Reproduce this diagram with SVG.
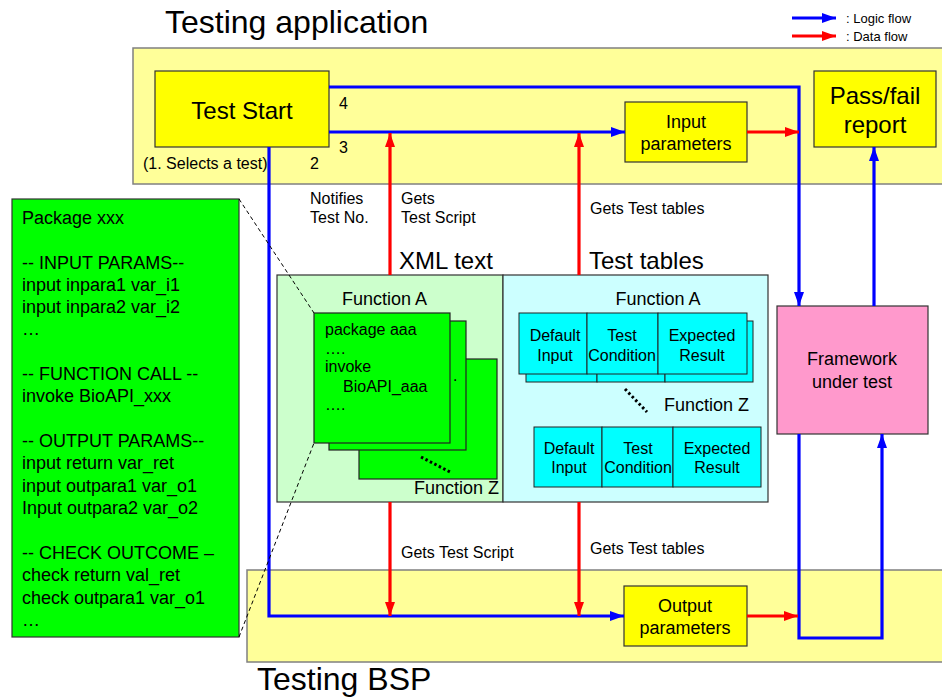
<svg xmlns="http://www.w3.org/2000/svg" width="942" height="700" viewBox="0 0 942 700">
<style>
text{font-family:"Liberation Sans",Arial,sans-serif;fill:#000}
.band{fill:#ffff99;stroke:#808080;stroke-width:1.5}
.box{fill:#ffff00;stroke:#333;stroke-width:1.2}
.gcard{fill:#00ff00;stroke:#222;stroke-width:1.2}
.cell{fill:#00ffff;stroke:#222;stroke-width:1}
.blue{fill:none;stroke:#0000ff;stroke-width:3.2;marker-end:url(#ab)}
.red{fill:none;stroke:#ff0000;stroke-width:3.2;marker-end:url(#ar)}
.dash{fill:none;stroke:#000;stroke-width:1;stroke-dasharray:4,3}
.dots{fill:none;stroke:#000;stroke-width:3;stroke-dasharray:2.5,2.5}
.t16{font-size:16px}
.t18{font-size:18px}
.t24{font-size:24px}
.t32{font-size:32px}
.c{text-anchor:middle}
</style>
<defs>
<marker id="ab" markerUnits="userSpaceOnUse" markerWidth="16" markerHeight="12" refX="14" refY="6" orient="auto"><path d="M0,1 L14,6 L0,11 Z" fill="#0000ff"/></marker>
<marker id="ar" markerUnits="userSpaceOnUse" markerWidth="16" markerHeight="12" refX="14" refY="6" orient="auto"><path d="M0,1 L14,6 L0,11 Z" fill="#ff0000"/></marker>
</defs>
<rect width="942" height="700" fill="#fff"/>

<g id="testing-application">
<rect class="band" x="133" y="48" width="815" height="136"/>
<text class="t32" x="165" y="33">Testing application</text>
</g>
<g id="testing-bsp">
<rect class="band" x="247" y="570" width="700" height="92"/>
<text class="t32" x="257" y="690">Testing BSP</text>
</g>

<g id="legend">
<path class="blue" d="M792,18 H836"/>
<path class="red" d="M792,36 H836"/>
<text x="846" y="23" font-size="13">: Logic flow</text>
<text x="846" y="41" font-size="13">: Data flow</text>
</g>

<g id="test-start">
<rect class="box" x="155" y="71" width="174" height="76"/>
<text class="t24 c" x="242" y="119">Test Start</text>
<text class="t16" x="143" y="169">(1. Selects a test)</text>
</g>
<g id="input-parameters">
<rect class="box" x="625" y="102" width="122" height="60"/>
<text class="t18 c" x="686" y="128">Input</text>
<text class="t18 c" x="686" y="150">parameters</text>
</g>
<g id="pass-fail-report">
<rect class="box" x="814" y="71" width="122" height="76"/>
<text class="t24 c" x="875" y="104">Pass/fail</text>
<text class="t24 c" x="875" y="133">report</text>
</g>
<g id="framework">
<rect x="777" y="306" width="151" height="128" fill="#ff99cc" stroke="#333" stroke-width="1.2"/>
<text class="t18 c" x="852" y="365">Framework</text>
<text class="t18 c" x="852" y="388">under test</text>
</g>
<g id="output-parameters">
<rect class="box" x="624" y="586" width="123" height="60"/>
<text class="t18 c" x="685" y="612">Output</text>
<text class="t18 c" x="685" y="634">parameters</text>
</g>

<g id="xml-text">
<rect x="277" y="275" width="226" height="227" fill="#ccffcc" stroke="#333" stroke-width="1.2"/>
<text class="t24" x="399" y="269">XML text</text>
<text class="t18" x="342" y="305">Function A</text>
<rect class="gcard" x="359" y="359" width="138" height="120"/>
<rect class="gcard" x="329" y="321" width="137" height="129"/>
<text class="t16" x="453" y="381">.</text>
<rect class="gcard" x="314" y="313" width="136" height="130"/>
<text class="t16" x="325" y="335">package aaa</text>
<text class="t16" x="325" y="354">….</text>
<text class="t16" x="325" y="372">invoke</text>
<text class="t16" x="343" y="392">BioAPI_aaa</text>
<text class="t16" x="325" y="410">….</text>
<path class="dots" d="M421,457 L450,472"/>
<text class="t18" x="414" y="494">Function Z</text>
</g>

<g id="test-tables">
<rect x="503" y="275" width="265" height="227" fill="#ccffff" stroke="#333" stroke-width="1.2"/>
<text class="t24" x="589" y="269">Test tables</text>
<text class="t18 c" x="658" y="305">Function A</text>
<rect class="cell" x="526" y="321" width="71" height="61"/>
<rect class="cell" x="597" y="321" width="68" height="61"/>
<rect class="cell" x="665" y="321" width="88" height="61"/>
<rect class="cell" x="519" y="313" width="68" height="61"/>
<rect class="cell" x="587" y="313" width="71" height="61"/>
<rect class="cell" x="658" y="313" width="89" height="61"/>
<text class="t16 c" x="555" y="341">Default</text>
<text class="t16 c" x="555" y="361">Input</text>
<text class="t16 c" x="622" y="341">Test</text>
<text class="t16 c" x="622" y="361">Condition</text>
<text class="t16 c" x="702" y="341">Expected</text>
<text class="t16 c" x="702" y="361">Result</text>
<path class="dots" d="M625,389 L647,412"/>
<text class="t18" x="664" y="411">Function Z</text>
<rect class="cell" x="534" y="427" width="68" height="60"/>
<rect class="cell" x="602" y="427" width="71" height="60"/>
<rect class="cell" x="673" y="427" width="88" height="60"/>
<text class="t16 c" x="569" y="454">Default</text>
<text class="t16 c" x="569" y="473">Input</text>
<text class="t16 c" x="638" y="454">Test</text>
<text class="t16 c" x="638" y="473">Condition</text>
<text class="t16 c" x="717" y="454">Expected</text>
<text class="t16 c" x="717" y="473">Result</text>
</g>

<g id="package-script">
<rect x="12" y="199" width="227" height="438" fill="#00ff00" stroke="#333" stroke-width="1.2"/>
<g class="t18">
<text x="22" y="224">Package xxx</text>
<text x="22" y="269">-- INPUT PARAMS--</text>
<text x="22" y="291">input inpara1 var_i1</text>
<text x="22" y="313">input inpara2 var_i2</text>
<text x="22" y="335">…</text>
<text x="22" y="380">-- FUNCTION CALL --</text>
<text x="22" y="402">invoke BioAPI_xxx</text>
<text x="22" y="447">-- OUTPUT PARAMS--</text>
<text x="22" y="469">input return var_ret</text>
<text x="22" y="492">input outpara1 var_o1</text>
<text x="22" y="514">Input outpara2 var_o2</text>
<text x="22" y="559">-- CHECK OUTCOME –</text>
<text x="22" y="581">check return val_ret</text>
<text x="22" y="604">check outpara1 var_o1</text>
<text x="22" y="626">…</text>
</g>
</g>

<g id="connectors">
<path class="blue" d="M329,87 H799 V306"/>
<path class="blue" d="M329,132 H625"/>
<path class="blue" d="M874,306 V147"/>
<path class="blue" d="M269,147 V616 H624"/>
<path class="blue" d="M799,434 V638 H882 V434"/>
<path class="red" d="M747,132 H799"/>
<path class="red" d="M390,275 V133"/>
<path class="red" d="M579,275 V133"/>
<path class="red" d="M390,502 V616"/>
<path class="red" d="M579,502 V616"/>
<path class="red" d="M747,616 H798"/>
<path class="dash" d="M239,199 L314,313"/>
<path class="dash" d="M239,637 L314,443"/>
</g>

<g id="labels">
<text class="t16" x="339" y="109">4</text>
<text class="t16" x="339" y="153">3</text>
<text class="t16" x="310" y="169">2</text>
<text class="t16" x="310" y="204">Notifies</text>
<text class="t16" x="310" y="223">Test No.</text>
<text class="t16" x="401" y="204">Gets</text>
<text class="t16" x="401" y="223">Test Script</text>
<text class="t16" x="590" y="214">Gets Test tables</text>
<text class="t16" x="401" y="558">Gets Test Script</text>
<text class="t16" x="590" y="554">Gets Test tables</text>
</g>
</svg>
